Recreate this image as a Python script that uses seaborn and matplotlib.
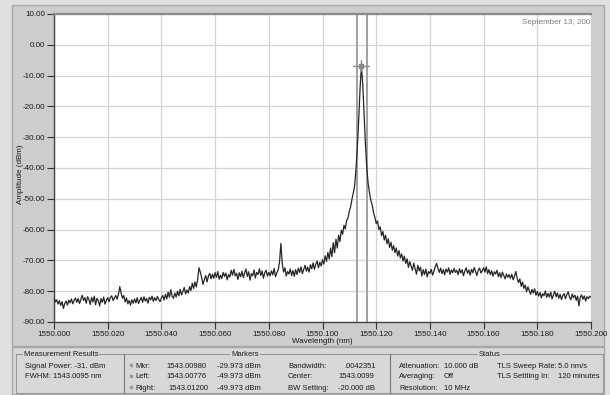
import numpy as np
import pandas as pd
import matplotlib
matplotlib.use("Agg")
import matplotlib.pyplot as plt
from matplotlib import font_manager
import seaborn as sns
from matplotlib.patches import Rectangle

# ---------------- data ----------------
wl_start, wl_stop, n_points = 1550.000, 1550.200, 401

amp_000_050 = [
    -82.0, -83.5, -82.8, -84.2, -83.1, -84.6, -83.4, -85.6, -84.0, -83.2,
    -84.5, -82.9, -83.8, -82.5, -84.1, -83.0, -82.2, -83.6, -82.4, -84.0,
    -82.6, -81.3, -83.0, -82.1, -83.9, -81.8, -82.7, -84.3, -82.0, -83.5,
    -81.6, -84.4, -82.3, -83.1, -84.8, -82.4, -83.6, -81.9, -84.2, -83.0,
    -82.1, -83.4, -82.0, -81.5, -83.0, -82.2, -81.4, -82.6, -81.0, -78.5,
    -80.6, -82.3, -81.4, -83.5, -82.2, -84.1, -83.0, -84.5, -82.8, -83.9,
    -82.5, -83.8, -82.1, -84.0, -82.9, -82.0, -83.6, -81.8, -83.2, -82.4,
    -83.9, -82.0, -82.8, -81.6, -83.3, -82.1, -83.0, -81.7, -82.6, -83.4,
    -82.2, -81.4, -82.9, -81.0, -82.5, -80.3, -82.0, -79.5, -81.6, -82.3,
    -80.6, -81.9, -80.0, -81.5, -79.4, -81.2, -80.1, -78.8, -80.9, -79.6,
]
amp_050_100 = [
    -80.6, -78.5, -79.8, -77.4, -79.1, -77.0, -78.6, -76.2, -72.4, -73.8,
    -75.6, -77.8, -76.2, -74.9, -77.0, -75.1, -74.2, -76.0, -74.5, -75.8,
    -74.0, -75.5, -73.6, -76.1, -74.8, -75.9, -73.9, -75.2, -74.1, -76.3,
    -74.6, -75.4, -73.2, -74.8, -72.9, -75.0, -74.2, -76.2, -74.0, -75.3,
    -73.5, -75.6, -74.1, -72.8, -75.2, -73.7, -76.4, -74.3, -75.0, -73.1,
    -75.7, -73.9, -74.6, -72.7, -74.9, -73.4, -75.8, -74.0, -73.2, -75.1,
    -73.9, -75.0, -73.4, -74.7, -72.6, -75.3, -74.0, -73.1, -70.5, -64.5,
    -71.0, -73.8, -72.4, -75.1, -73.6, -74.4, -72.8, -74.9, -73.3, -75.2,
    -73.0, -74.6, -72.5, -73.9, -72.1, -74.3, -72.9, -71.6, -73.5, -72.2,
    -73.8, -71.4, -72.7, -70.8, -72.9, -71.2, -70.2, -72.4, -70.6, -71.8,
]
amp_100_120 = [
    -69.8, -71.2, -68.5, -70.3, -67.4, -69.6, -66.0, -68.8, -64.2, -67.5,
    -63.1, -66.0, -61.8, -63.9, -60.2, -61.5, -58.6, -59.8, -57.0, -56.2,
    -54.0, -52.5, -50.0, -48.0, -45.5, -40.0, -33.0, -24.0, -14.0, -6.8,
    -13.0, -23.0, -32.5, -40.0, -45.0, -48.0, -50.5, -52.0, -54.5, -56.0,
]
amp_120_160 = [
    -58.0, -57.2, -60.0, -59.1, -62.0, -60.6, -63.4, -61.8, -64.6, -63.0,
    -65.8, -64.1, -66.7, -65.2, -67.5, -66.0, -68.6, -66.8, -69.2, -67.9,
    -70.2, -68.6, -71.0, -69.5, -72.3, -70.4, -71.8, -73.2, -70.9, -72.7,
    -74.5, -71.6, -73.4, -72.2, -75.1, -73.0, -74.6, -72.8, -75.4, -73.6,
    -74.2, -72.9, -74.8, -73.5, -72.0, -71.0, -72.6, -73.9, -72.5, -74.3,
    -73.0, -74.7, -72.8, -73.8, -72.4, -74.5, -73.1, -74.0, -72.6, -73.9,
    -73.2, -74.6, -72.7, -74.1, -73.0, -75.0, -73.5, -72.4, -74.2, -73.1,
    -74.8, -72.9, -74.0, -72.3, -73.6, -74.9, -73.2, -72.5, -74.1, -73.4,
]
amp_160_200 = [
    -72.4, -73.8, -72.1, -74.3, -73.0, -74.6, -73.4, -75.1, -73.7, -74.4,
    -73.2, -75.3, -74.0, -75.6, -73.8, -74.9, -76.0, -74.4, -75.5, -74.6,
    -75.8, -74.5, -76.3, -75.1, -73.6, -75.9, -77.2, -76.0, -78.4, -77.0,
    -79.1, -78.0, -80.2, -78.6, -79.8, -81.0, -79.4, -80.6, -79.2, -81.3,
    -80.1, -81.6, -80.4, -82.2, -80.8, -81.5, -79.9, -82.0, -80.7, -81.9,
    -80.3, -82.5, -81.2, -80.0, -81.8, -80.6, -82.3, -81.0, -82.7, -81.4,
    -80.8, -82.4, -81.1, -80.2, -81.9, -82.8, -80.9, -82.1, -81.3, -83.0,
    -81.6, -84.8, -82.0, -81.2, -82.6, -81.5, -83.2, -81.8, -82.4, -81.6,
    -82.0,
]

marker_lines_wl = [1550.1128, 1550.1166]

y_ticks = [10, 0, -10, -20, -30, -40, -50, -60, -70, -80, -90]
x_ticks = [1550.000, 1550.020, 1550.040, 1550.060, 1550.080, 1550.100,
           1550.120, 1550.140, 1550.160, 1550.180, 1550.200]

amplitude = amp_000_050 + amp_050_100 + amp_100_120 + amp_120_160 + amp_160_200
wavelength = np.linspace(wl_start, wl_stop, n_points)
df = pd.DataFrame({"Wavelength (nm)": wavelength[:len(amplitude)],
                   "Amplitude (dBm)": amplitude})

# ---------------- styling ----------------
sns.set_theme(style="whitegrid")

narrow = None
try:
    font_manager.findfont(font_manager.FontProperties(family='Liberation Sans Narrow'),
                          fallback_to_default=False)
    narrow = 'Liberation Sans Narrow'
except Exception:
    narrow = None

if narrow:
    plt.rcParams['font.family'] = [narrow, 'Liberation Sans', 'DejaVu Sans']
    fs_tick, fs = 6.6, 6.4
else:
    plt.rcParams['font.family'] = ['Liberation Sans', 'DejaVu Sans']
    fs_tick, fs = 5.8, 5.5

W, H = 610, 395
fig = plt.figure(figsize=(W / 100, H / 100), dpi=100, facecolor='#e0e0e0')


def px_rect(x0, y0, x1, y1):
    return [x0 / W, 1 - y1 / H, (x1 - x0) / W, (y1 - y0) / H]


bg = fig.add_axes([0, 0, 1, 1])
bg.set_xlim(0, W)
bg.set_ylim(H, 0)
bg.axis('off')
bg.set_zorder(0)
bg.add_patch(Rectangle((12, 5), 592, 341, fc='#cdcdcd', ec='#a8a8a8', lw=1))

ax = fig.add_axes(px_rect(54, 14, 591, 322))
ax.set_zorder(1)
ax.set_facecolor('white')

sns.lineplot(data=df, x="Wavelength (nm)", y="Amplitude (dBm)", ax=ax,
             color='#262626', linewidth=0.9, estimator=None, zorder=3)

for xv in marker_lines_wl:
    ax.axvline(xv, color='#a0a0a0', lw=1.4, zorder=2)

# peak marker crosshair
i_pk = int(np.argmax(amplitude))
pk_x, pk_y = wavelength[i_pk], amplitude[i_pk]
ax.plot([pk_x - 0.003, pk_x + 0.003], [pk_y, pk_y], color='#8a8a8a', lw=1.0, zorder=4)
ax.plot([pk_x, pk_x], [pk_y + 1.8, pk_y - 1.8], color='#8a8a8a', lw=1.0, zorder=4)
ax.plot([pk_x], [pk_y], marker='s', ms=3, color='#8a8a8a', zorder=4)

ax.set_xlim(wl_start, wl_stop)
ax.set_ylim(-90, 10)
ax.set_xticks(x_ticks)
ax.set_yticks(y_ticks)
ax.set_xticklabels([f"{v:.3f}" for v in x_ticks])
ax.set_yticklabels([f"{v:.2f}" for v in y_ticks])
ax.grid(True, color='#d4d4d4', lw=0.9)
ax.tick_params(axis='both', which='major', direction='out', length=5, width=0.8,
               color='#333333', labelsize=fs_tick, labelcolor='#1a1a1a',
               bottom=True, left=True, pad=1.5)
ax.set_xlabel("Wavelength (nm)", fontsize=fs_tick, color='#1a1a1a', labelpad=0)
ax.set_ylabel("Amplitude (dBm)", fontsize=fs_tick, color='#1a1a1a')
ax.yaxis.set_label_coords(-0.055, 0.48)

for side in ['left', 'bottom']:
    ax.spines[side].set_color('#444444')
    ax.spines[side].set_linewidth(1.0)
ax.spines['top'].set_color('#8a8a8a')
ax.spines['top'].set_linewidth(1.6)
ax.spines['right'].set_visible(False)

ax.text(0.999, 0.985, "September 13, 200", transform=ax.transAxes,
        ha='right', va='top', fontsize=fs_tick, color='#7a7a7a', clip_on=True)

# ---------------- bottom status panel ----------------
tc = '#1a1a1a'
pc = '#d8d8d8'
bg.add_patch(Rectangle((12, 347), 592, 47, fc=pc, ec='#a8a8a8', lw=1))
bg.plot([16, 603], [354, 354], color='#9a9a9a', lw=0.8)
bg.plot([16, 16], [354, 393], color='#9a9a9a', lw=0.8)
bg.plot([603, 603], [354, 393], color='#9a9a9a', lw=0.8)
bg.plot([16, 603], [393, 393], color='#9a9a9a', lw=0.8)
bg.plot([124, 124], [354, 393], color='#777777', lw=0.8)
bg.plot([390, 390], [354, 393], color='#777777', lw=0.8)


def t(x, y, s, **kw):
    bg.text(x, y, s, fontsize=fs, color=tc, va='center', **kw)


box = dict(fc=pc, ec='none', pad=0.6)
t(24, 354, "Measurement Results", bbox=box)
t(245, 354, "Markers", ha='center', bbox=box)
t(490, 354, "Status", ha='center', bbox=box)

t(25, 366, "Signal Power: -31. dBm")
t(25, 377, "FWHM: 1543.0095 nm")

for yy in (365, 376, 387):
    bg.plot([131], [yy], marker='s', ms=2, color='#9a9a9a')
t(135, 366, "Mkr:")
t(135, 377, "Left:")
t(135, 388, "Right:")
t(166, 366, "1543.00980")
t(166, 377, "1543.00776")
t(168, 388, "1543.01200")
t(217, 366, "-29.973 dBm")
t(217, 377, "-49.973 dBm")
t(217, 388, "-49.973 dBm")
t(288, 366, "Bandwidth:")
t(288, 377, "Center:")
t(288, 388, "BW Setting:")
t(344, 366, ".0042351")
t(338, 377, "1543.0099")
t(338, 388, "-20.000 dB")

t(399, 366, "Attenuation:")
t(399, 377, "Averaging:")
t(399, 388, "Resolution:")
t(444, 366, "10.000 dB")
t(444, 377, "Off")
t(444, 388, "10 MHz")
t(497, 366, "TLS Sweep Rate:")
t(497, 377, "TLS Settling In:")
t(558, 366, "5.0 nm/s")
t(558, 377, "120 minutes")

fig.savefig("out.png", dpi=100, facecolor=fig.get_facecolor())
